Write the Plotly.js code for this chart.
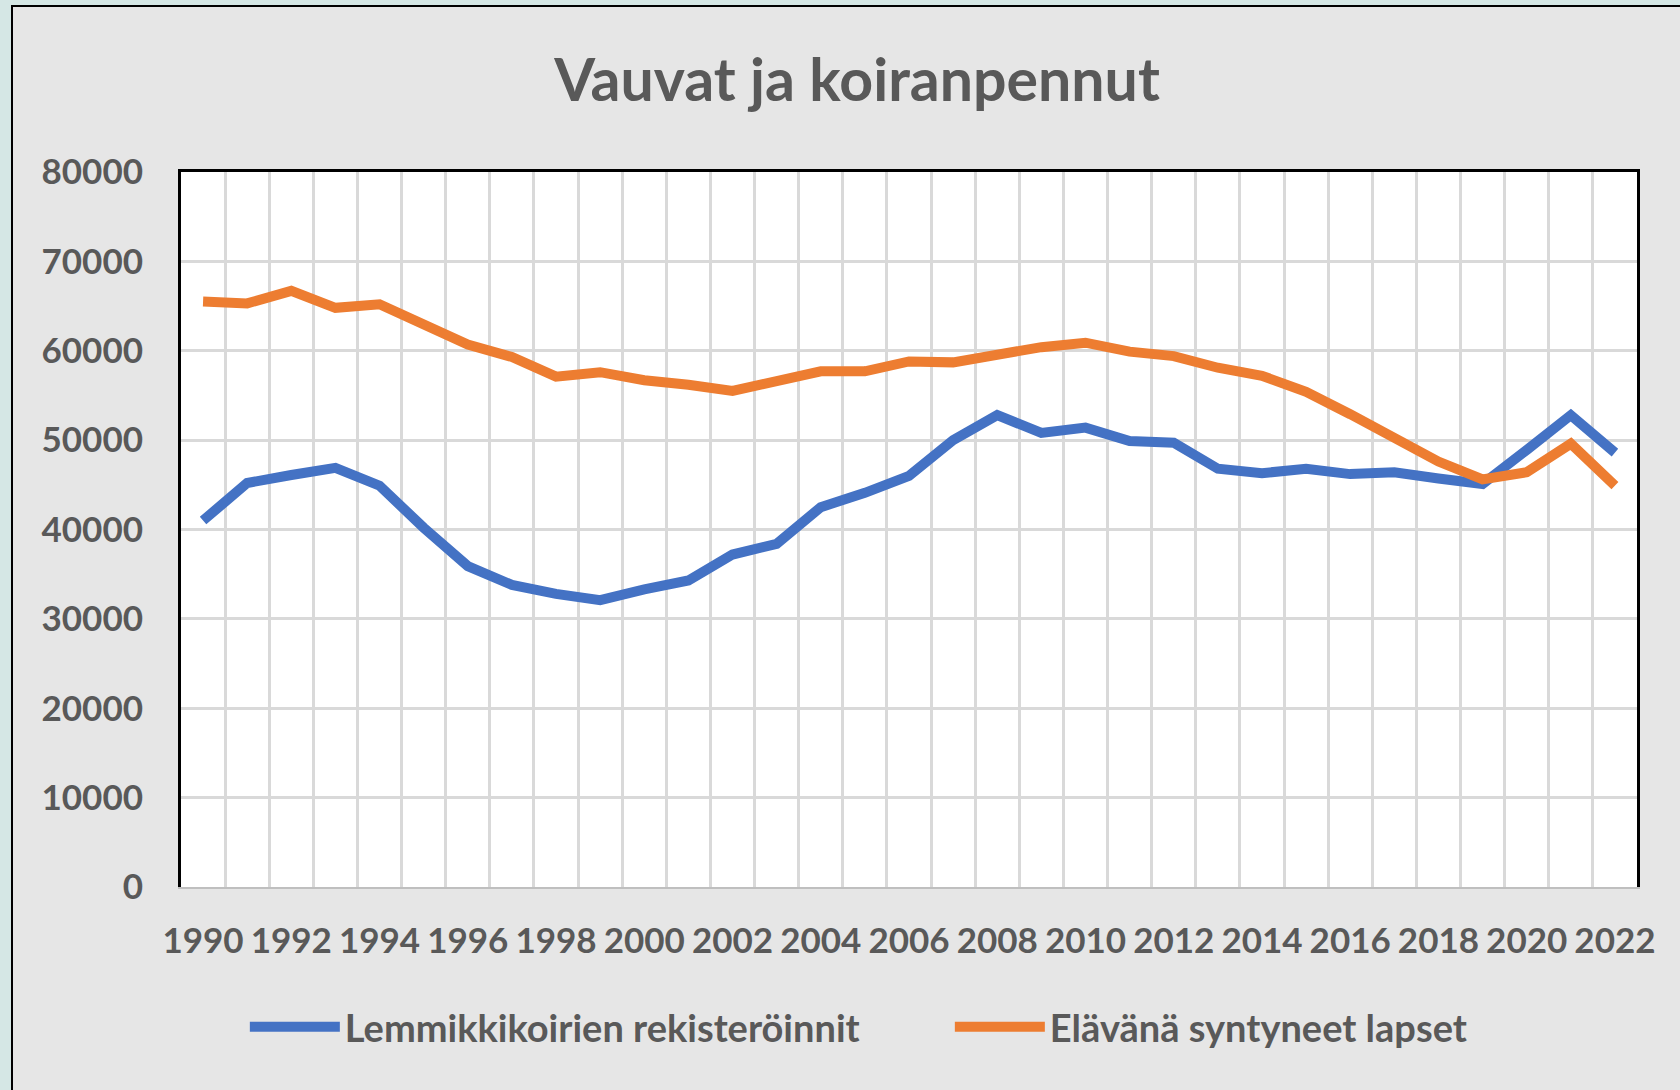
<!DOCTYPE html>
<html>
<head>
<meta charset="utf-8">
<script src="https://cdn.plot.ly/plotly-3.0.1.min.js"></script>
<style>
  html, body { margin: 0; padding: 0; width: 1680px; height: 1090px; overflow: hidden; background: #d5e7e5; }
  #frame { position: absolute; left: 11px; top: 5px; border-left: 2px solid #000; border-top: 2px solid #000; background: #e6e6e6; width: 1688px; height: 1083px; }
  #chart { width: 1688px; height: 1083px; }
</style>
</head>
<body>
<div id="frame"><div id="chart"></div></div>
<script>
// Data
const years = [1990,1991,1992,1993,1994,1995,1996,1997,1998,1999,2000,2001,2002,2003,2004,2005,2006,2007,2008,2009,2010,2011,2012,2013,2014,2015,2016,2017,2018,2019,2020,2021,2022];
const dogRegistrations = [41000,45200,46100,46900,44900,40200,35900,33800,32800,32100,33300,34300,37200,38400,42500,44100,46000,50000,52800,50800,51400,49900,49700,46800,46300,46800,46200,46400,45700,45100,48900,52800,48600];
const liveBirths = [65500,65300,66700,64800,65200,63000,60700,59300,57100,57600,56700,56200,55500,56600,57700,57700,58800,58700,59500,60400,60900,59900,59400,58100,57200,55400,52900,50400,47600,45600,46400,49600,44900];
const seriesNames = ["Lemmikkikoirien rekisteröinnit", "Elävänä syntyneet lapset"];
const seriesColors = ["#4472c4", "#ed7d31"];
const xTickYears = [1990,1992,1994,1996,1998,2000,2002,2004,2006,2008,2010,2012,2014,2016,2018,2020,2022];
const yTicks = [0,10000,20000,30000,40000,50000,60000,70000,80000];
const chartTitle = "Vauvat ja koiranpennut";

const FONT = "Lato, 'Open Sans', 'Liberation Sans', sans-serif";
const TXT = "#595959";

const traces = [
  { x: years, y: dogRegistrations, name: seriesNames[0], type: "scatter", mode: "lines",
    line: { color: seriesColors[0], width: 10 }, hoverinfo: "x+y" },
  { x: years, y: liveBirths, name: seriesNames[1], type: "scatter", mode: "lines",
    xaxis: "x2",
    line: { color: seriesColors[1], width: 10 }, hoverinfo: "x+y" }
];

const xRange = [years[0] - 0.5, years[years.length - 1] + 0.5];

const layout = {
  width: 1688, height: 1083,
  paper_bgcolor: "#e6e6e6",
  plot_bgcolor: "#ffffff",
  margin: { l: 168, r: 64, t: 165, b: 203 },
  font: { family: FONT, color: TXT },
  title: {
    text: "<b>" + chartTitle + "</b>",
    font: { family: FONT, size: 59, color: TXT },
    x: 0.5, xref: "container", xanchor: "center",
    y: 1 - 73 / 1083, yref: "container", yanchor: "middle"
  },
  showlegend: true,
  legend: {
    orientation: "h",
    x: 0.555, xref: "container", xanchor: "center",
    y: 1 - 1020 / 1083, yref: "container", yanchor: "middle",
    font: { family: FONT, size: 38, color: TXT, weight: "bold" },
    itemwidth: 90,
    entrywidth: 600,
    bgcolor: "rgba(0,0,0,0)"
  },
  xaxis: {
    range: xRange,
    tickmode: "array",
    tickvals: xTickYears,
    ticktext: xTickYears.map(String),
    tickangle: 0,
    ticks: "",
    ticklabelstandoff: 22,
    tickfont: { family: FONT, size: 35, color: TXT, weight: "bold" },
    showgrid: false,
    zeroline: false,
    showline: true, linecolor: "#bfbfbf", linewidth: 2,
    minor: { tick0: years[0] + 0.5, dtick: 1, showgrid: true, gridcolor: "#d9d9d9", gridwidth: 3, ticks: "" },
    fixedrange: true
  },
  xaxis2: {
    overlaying: "x", matches: "x", side: "top",
    range: xRange,
    showticklabels: false, ticks: "", showgrid: false, zeroline: false,
    showline: true, linecolor: "#000000", linewidth: 3,
    fixedrange: true
  },
  yaxis: {
    range: [0, 80000],
    tickmode: "array",
    tickvals: yTicks,
    ticktext: yTicks.map(String),
    ticks: "",
    ticklabelstandoff: 28,
    tickfont: { family: FONT, size: 35, color: TXT, weight: "bold" },
    showgrid: true, gridcolor: "#d9d9d9", gridwidth: 3,
    zeroline: false,
    showline: true, mirror: true, linecolor: "#000000", linewidth: 3,
    fixedrange: true
  }
};

Plotly.newPlot("chart", traces, layout, { displayModeBar: false, staticPlot: true });
</script>
</body>
</html>
